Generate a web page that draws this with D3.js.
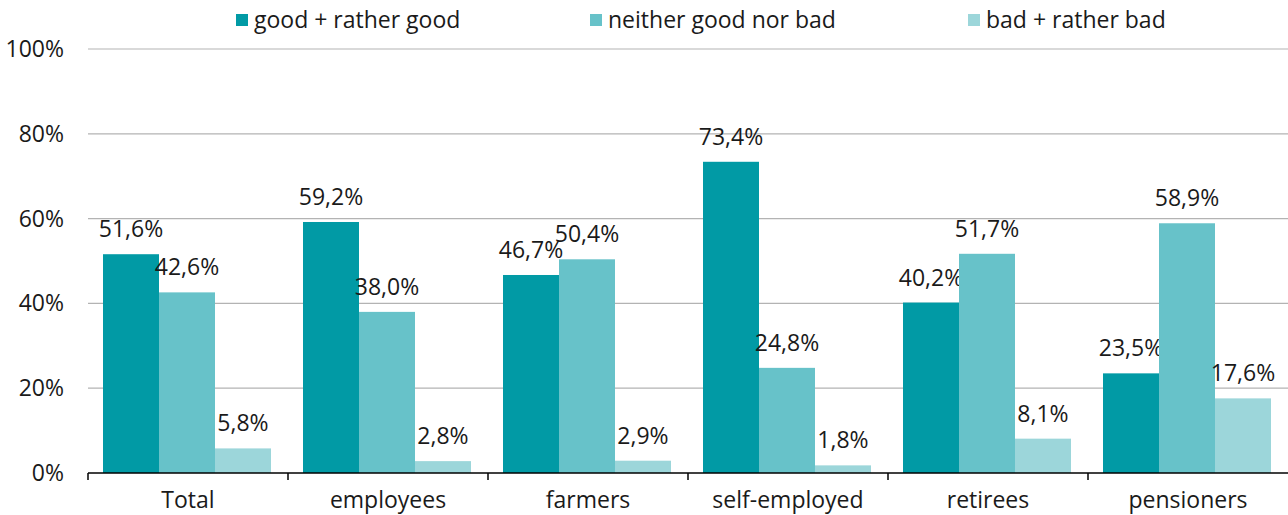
<!DOCTYPE html>
<html><head><meta charset="utf-8">
<script src="https://cdn.jsdelivr.net/npm/d3@7"></script>
<style>body{margin:0;background:#fff}svg{display:block}text{font-family:"Open Sans",sans-serif;fill:#1a1a1a}</style>
</head><body>
<svg id="c" width="1288" height="515"></svg>
<script>
const categories = ["Total","employees","farmers","self-employed","retirees","pensioners"];
const seriesNames = ["good + rather good","neither good nor bad","bad + rather bad"];
const goodValues = [51.6,59.2,46.7,73.4,40.2,23.5];
const neitherValues = [42.6,38.0,50.4,24.8,51.7,58.9];
const badValues = [5.8,2.8,2.9,1.8,8.1,17.6];
const yTicks = [0,20,40,60,80,100];
const colors = ["#019aa5","#67c2c9","#9cd6da"];

(function(){
const FS = 23;
const series = [goodValues, neitherValues, badValues];
const svg = d3.select("#c");
const mLeft = 88, mRight = 1288, mTop = 49, mBottom = 473;
const x0 = d3.scaleBand().domain(categories).range([mLeft,mRight]).padding(0);
const x1 = d3.scaleBand().domain(d3.range(3)).range([15, x0.bandwidth()-17]).padding(0);
const y = d3.scaleLinear().domain([0,100]).range([mBottom, mTop]);

svg.append("g").selectAll("line").data(yTicks.filter(d=>d>0)).join("line")
  .attr("x1",mLeft).attr("x2",mRight).attr("y1",d=>y(d)).attr("y2",d=>y(d))
  .attr("stroke","#b3b3b3").attr("stroke-width",1.2);

svg.append("g").selectAll("text").data(yTicks).join("text")
  .attr("x",64).attr("y",d=>y(d)).attr("dy","0.35em").attr("text-anchor","end")
  .attr("font-size",FS).text(d=>d+"%");

const groups = svg.append("g").selectAll("g").data(categories).join("g")
  .attr("transform",c=>`translate(${x0(c)},0)`);
groups.each(function(c,i){
  const g = d3.select(this);
  series.forEach((s,k)=>{
    g.append("rect").attr("x",x1(k)).attr("width",x1.bandwidth())
      .attr("y",y(s[i])).attr("height",y(0)-y(s[i])).attr("fill",colors[k]);
    g.append("text").attr("x",x1(k)+x1.bandwidth()/2).attr("y",y(s[i])-17)
      .attr("text-anchor","middle").attr("font-size",FS)
      .text(s[i].toFixed(1).replace(".",",")+"%");
  });
});

const xa = svg.append("g").attr("transform",`translate(0,${mBottom})`);
xa.append("line").attr("x1",mLeft).attr("x2",mRight).attr("stroke","#000").attr("stroke-width",1.5);
xa.selectAll("line.t").data(categories).join("line").attr("class","t")
  .attr("x1",c=>x0(c)).attr("x2",c=>x0(c)).attr("y1",0).attr("y2",7).attr("stroke","#000").attr("stroke-width",1.5);
xa.selectAll("text").data(categories).join("text")
  .attr("x",c=>x0(c)+x0.bandwidth()/2).attr("y",35)
  .attr("text-anchor","middle").attr("font-size",FS).text(c=>c);

const legX = [236,590,968];
const leg = svg.append("g").selectAll("g").data(seriesNames).join("g")
  .attr("transform",(d,i)=>`translate(${legX[i]},20)`);
leg.append("rect").attr("x",0).attr("y",-6).attr("width",12).attr("height",12).attr("fill",(d,i)=>colors[i]);
leg.append("text").attr("x",18).attr("y",0).attr("dy","0.35em").attr("font-size",FS).text(d=>d);
})();
</script>
</body></html>
